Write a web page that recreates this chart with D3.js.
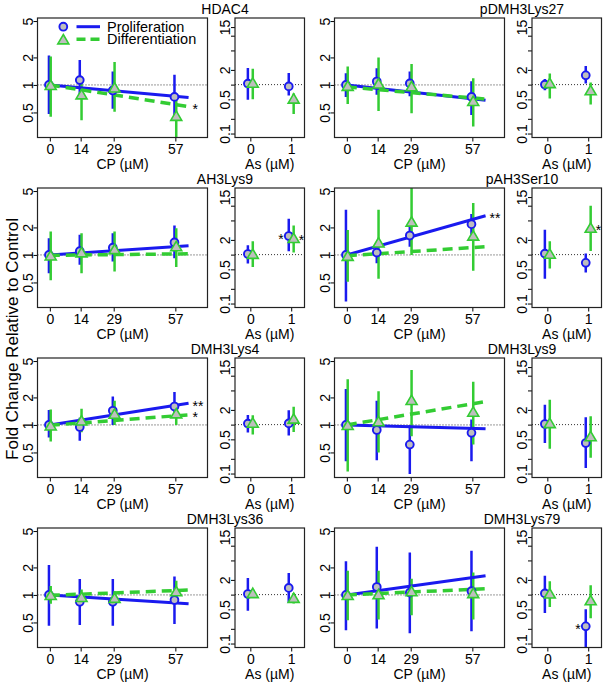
<!DOCTYPE html>
<html>
<head>
<meta charset="utf-8">
<script src="https://cdn.jsdelivr.net/npm/d3@7"></script>
<style>
body { margin: 0; background: #fff; }
svg { font-family: "Liberation Sans", Arial, sans-serif; }
</style>
</head>
<body>
<svg width="608" height="687"></svg>
<script>
// panel names, in reading order (left column, right column)
var panels = ["HDAC4", "pDMH3Lys27", "AH3Lys9", "pAH3Ser10", "DMH3Lys4", "DMH3Lys9", "DMH3Lys36", "DMH3Lys79"];

var cpDoses = [0, 14, 29, 57];
var asDoses = [0, 1];
var fitDoses = [0, 63];
var cpTicks = [0.5, 1, 2, 5];
var asTicks = [0.1, 0.2, 0.5, 1, 2, 5, 10, 15];
var asTickLabels = [0.1, 0.5, 2, 15];

// proliferation, CP exposure: mean, lower, upper
var prolifCP   = [[1.0,1.13,0.87,0.74],[1.0,1.09,1.04,0.74],[1.0,1.10,1.20,1.37],[1.0,1.06,1.63,2.17],[1.0,0.95,1.43,1.59],[1.0,0.88,0.61,0.82],[1.0,0.84,0.84,0.88],[1.0,1.22,1.06,1.10]];
var prolifCPLo = [[0.48,0.72,0.55,0.45],[0.74,0.78,0.75,0.47],[0.63,0.78,0.85,0.92],[0.31,0.81,1.23,1.66],[0.73,0.67,1.00,1.20],[0.40,0.41,0.29,0.40],[0.46,0.47,0.46,0.48],[0.41,0.43,0.38,0.40]];
var prolifCPHi = [[2.10,1.88,1.40,1.29],[1.34,1.52,1.40,1.10],[1.52,1.66,1.73,2.10],[3.12,1.34,2.14,2.80],[1.46,1.20,2.05,2.30],[2.47,1.84,1.00,1.15],[2.12,1.49,1.49,1.59],[2.33,3.37,2.92,3.04]];

// differentiation, CP exposure
var diffCP   = [[1.0,0.79,0.94,0.46],[0.98,1.04,0.97,0.67],[0.99,1.07,1.16,1.25],[0.98,1.37,2.32,1.63],[0.99,1.12,1.33,1.34],[1.0,1.10,1.88,1.40],[1.0,0.95,0.93,1.10],[1.0,1.02,1.10,1.05]];
var diffCPLo = [[0.45,0.41,0.51,0.27],[0.62,0.52,0.49,0.35],[0.53,0.63,0.66,0.74],[0.51,0.55,1.00,0.67],[0.66,0.83,1.00,1.00],[0.31,0.50,0.75,0.61],[0.80,0.80,0.80,0.80],[0.53,0.54,0.60,0.54]];
var diffCPHi = [[2.05,1.23,1.78,0.72],[1.59,2.00,1.70,1.18],[1.80,1.73,1.80,1.96],[1.88,3.12,6.00,3.70],[1.48,1.50,1.84,1.75],[3.17,2.33,4.00,2.97],[1.25,1.15,1.10,1.43],[1.84,1.84,1.50,1.76]];

// fitted trend at dose 0 and dose 63
var prolifFit = [[1.0,0.73],[1.0,0.68],[1.0,1.26],[1.0,2.68],[1.0,1.73],[1.0,0.91],[1.0,0.80],[1.0,1.62]];
var diffFit   = [[1.0,0.58],[0.95,0.70],[0.99,1.03],[0.98,1.23],[0.99,1.29],[1.0,1.80],[0.99,1.13],[1.0,1.17]];

// As exposure
var prolifAs   = [[1.05,0.92],[1.0,1.55],[1.03,2.40],[1.05,0.68],[1.05,1.06],[1.03,0.42],[1.03,1.37],[1.06,0.225]];
var prolifAsLo = [[0.49,0.60],[0.77,1.05],[0.66,1.17],[0.32,0.43],[0.69,0.60],[0.42,0.13],[0.47,0.68],[0.42,0.07]];
var prolifAsHi = [[2.19,1.73],[1.30,2.40],[1.55,5.40],[3.24,1.05],[1.57,1.96],[2.56,1.41],[2.19,2.77],[2.44,0.50]];
var diffAs   = [[1.10,0.52],[1.08,0.77],[1.04,2.19],[1.05,3.55],[1.10,1.33],[1.08,0.58],[1.08,0.86],[1.06,0.77]];
var diffAsLo = [[0.50,0.25],[0.52,0.39],[0.56,1.10],[0.52,1.19],[0.63,0.71],[0.32,0.21],[0.85,0.66],[0.56,0.33]];
var diffAsHi = [[2.10,0.66],[1.68,1.10],[1.87,3.96],[1.87,10.0],[1.55,2.33],[3.24,1.48],[1.30,1.08],[1.87,1.55]];

// significance marks: panel index, plot, series, text, side
var starPanel  = [0, 2, 2, 3, 3, 4, 4, 7];
var starPlot   = ["cp", "as", "as", "cp", "as", "cp", "cp", "as"];
var starSeries = ["diff", "prolif", "diff", "prolif", "diff", "prolif", "diff", "prolif"];
var starText   = ["*", "*", "*", "**", "*", "**", "*", "*"];
var starSide   = ["right", "left", "right", "right", "right", "right", "right", "left"];

var svg = d3.select("svg"),
    colX = [0, 297],
    rowH = 170,
    boxTop = 18,
    boxH = 119.5,
    cpLeft = 37.5, cpW = 170,
    asLeft = 235, asW = 69.5;

var blue = "#1a1aef", green = "#33cc33", grey = "#bebebe";

var xCP = d3.scaleLinear().domain([-5.6, 71.6]).range([0, cpW]);
var xAs = d3.scaleLinear().domain([-0.375, 1.325]).range([0, asW]);
var yCP = d3.scaleLog().domain([0.266, 5.4]).range([boxH, 0]);
var yAs = d3.scaleLog().domain([0.083, 23]).range([boxH, 0]);

var triangle = "M0,-4.8L5.5,4.6L-5.5,4.6Z";

function fmt(d) { return String(d); }

function frame(g, x, y, xticks, yticks, ylabels, xlabel, w, id) {
  g.append("clipPath").attr("id", id)
    .append("rect").attr("width", w).attr("height", boxH);

  var ya = g.append("g").call(d3.axisLeft(y).tickValues(yticks).tickSize(4).tickSizeOuter(0)
      .tickFormat(function(d) { return ylabels.indexOf(d) >= 0 ? fmt(d) : ""; }));
  ya.select(".domain").remove();
  ya.selectAll("line").attr("stroke", "#000");
  ya.selectAll("text")
    .attr("transform", "rotate(-90)")
    .attr("x", 0).attr("y", -5).attr("dy", 0)
    .style("text-anchor", "middle")
    .style("font-size", "14px")
    .attr("fill", "#000");

  var xa = g.append("g").attr("transform", "translate(0," + boxH + ")")
    .call(d3.axisBottom(x).tickValues(xticks).tickSize(4).tickSizeOuter(0).tickFormat(fmt));
  xa.select(".domain").remove();
  xa.selectAll("line").attr("stroke", "#000");
  xa.selectAll("text").attr("y", 16.5).attr("dy", 0)
    .style("font-size", "14px").attr("fill", "#000");

  g.append("text")
    .attr("x", w / 2).attr("y", boxH + 31)
    .attr("text-anchor", "middle")
    .style("font-size", "14px")
    .text(xlabel);

  g.append("line")
    .attr("x1", 0).attr("x2", w)
    .attr("y1", y(1)).attr("y2", y(1))
    .attr("stroke", "#333").attr("stroke-width", 1)
    .attr("stroke-dasharray", "1,2");
}

function bars(g, x, y, doses, lo, hi, color, dx) {
  g.selectAll(null).data(doses).enter().append("line")
    .attr("x1", function(d) { return x(d + dx); })
    .attr("x2", function(d) { return x(d + dx); })
    .attr("y1", function(d, i) { return y(lo[i]); })
    .attr("y2", function(d, i) { return y(hi[i]); })
    .attr("stroke", color).attr("stroke-width", 2.5);
}

function fit(g, x, y, vals, color, dash, width) {
  g.append("line")
    .attr("x1", x(fitDoses[0])).attr("x2", x(fitDoses[1]))
    .attr("y1", y(vals[0])).attr("y2", y(vals[1]))
    .attr("stroke", color).attr("stroke-width", width)
    .attr("stroke-dasharray", dash);
}

function circles(g, x, y, doses, mean, dx) {
  g.selectAll(null).data(doses).enter().append("circle")
    .attr("cx", function(d) { return x(d + dx); })
    .attr("cy", function(d, i) { return y(mean[i]); })
    .attr("r", 3.9)
    .attr("fill", grey).attr("stroke", blue).attr("stroke-width", 1.9);
}

function triangles(g, x, y, doses, mean, dx) {
  g.selectAll(null).data(doses).enter().append("path")
    .attr("d", triangle)
    .attr("transform", function(d, i) { return "translate(" + x(d + dx) + "," + y(mean[i]) + ")"; })
    .attr("fill", grey).attr("stroke", green).attr("stroke-width", 1.6);
}

panels.forEach(function(name, i) {
  var ox = colX[i % 2], oy = Math.floor(i / 2) * rowH + boxTop;

  // CP panel
  var cp = svg.append("g").attr("transform", "translate(" + (ox + cpLeft) + "," + oy + ")");
  frame(cp, xCP, yCP, cpDoses, cpTicks, cpTicks, "CP (µM)", cpW, "clipcp" + i);
  var cpc = cp.append("g").attr("clip-path", "url(#clipcp" + i + ")");
  bars(cpc, xCP, yCP, cpDoses, prolifCPLo[i], prolifCPHi[i], blue, -0.4);
  bars(cpc, xCP, yCP, cpDoses, diffCPLo[i], diffCPHi[i], green, 0.4);
  fit(cpc, xCP, yCP, prolifFit[i], blue, null, 3);
  fit(cpc, xCP, yCP, diffFit[i], green, "10,6", 3.5);
  circles(cpc, xCP, yCP, cpDoses, prolifCP[i], -0.4);
  triangles(cpc, xCP, yCP, cpDoses, diffCP[i], 0.4);
  cp.append("rect").attr("width", cpW).attr("height", boxH)
    .attr("fill", "none").attr("stroke", "#222").attr("stroke-width", 1.2);

  // As panel
  var as = svg.append("g").attr("transform", "translate(" + (ox + asLeft) + "," + oy + ")");
  frame(as, xAs, yAs, asDoses, asTicks, asTickLabels, "As (µM)", asW, "clipas" + i);
  var asc = as.append("g").attr("clip-path", "url(#clipas" + i + ")");
  bars(asc, xAs, yAs, asDoses, prolifAsLo[i], prolifAsHi[i], blue, -0.06);
  bars(asc, xAs, yAs, asDoses, diffAsLo[i], diffAsHi[i], green, 0.06);
  circles(asc, xAs, yAs, asDoses, prolifAs[i], -0.06);
  triangles(asc, xAs, yAs, asDoses, diffAs[i], 0.06);
  as.append("rect").attr("width", asW).attr("height", boxH)
    .attr("fill", "none").attr("stroke", "#222").attr("stroke-width", 1.2);

  svg.append("text")
    .attr("x", ox + 225).attr("y", oy - 4)
    .attr("text-anchor", "middle")
    .style("font-size", "14px")
    .text(name);

  // stars
  starPanel.forEach(function(p, k) {
    if (p !== i) return;
    var t;
    if (starPlot[k] === "cp") {
      var v = (starSeries[k] === "prolif" ? prolifFit : diffFit)[i][1];
      t = cp.append("text")
        .attr("x", xCP(fitDoses[1]) + 4)
        .attr("y", yCP(v) + 7.5);
    } else {
      var m = (starSeries[k] === "prolif" ? prolifAs : diffAs)[i][1];
      var dx = starSeries[k] === "prolif" ? -0.06 : 0.06;
      t = as.append("text")
        .attr("x", xAs(1 + dx) + (starSide[k] === "left" ? -5 : 5))
        .attr("y", yAs(m) + 7.5)
        .attr("text-anchor", starSide[k] === "left" ? "end" : "start");
    }
    t.style("font-size", "14px").text(starText[k]);
  });
});

// legend
var lg = svg.append("g");
lg.append("circle").attr("cx", 63.3).attr("cy", 26.7).attr("r", 3.9)
  .attr("fill", grey).attr("stroke", blue).attr("stroke-width", 1.9);
lg.append("path").attr("d", triangle).attr("transform", "translate(63.3,39.3)")
  .attr("fill", grey).attr("stroke", green).attr("stroke-width", 1.6);
lg.append("line").attr("x1", 76.5).attr("x2", 100).attr("y1", 26.7).attr("y2", 26.7)
  .attr("stroke", blue).attr("stroke-width", 3);
lg.append("line").attr("x1", 76.5).attr("x2", 100).attr("y1", 39.3).attr("y2", 39.3)
  .attr("stroke", green).attr("stroke-width", 3.5).attr("stroke-dasharray", "9,5");
lg.append("text").attr("x", 107).attr("y", 31.5).style("font-size", "14.5px").text("Proliferation");
lg.append("text").attr("x", 107).attr("y", 44.3).style("font-size", "14.5px").text("Differentiation");

// shared y title
svg.append("text")
  .attr("transform", "translate(18,339) rotate(-90)")
  .attr("text-anchor", "middle")
  .style("font-size", "17px")
  .text("Fold Change Relative to Control");
</script>
</body>
</html>
